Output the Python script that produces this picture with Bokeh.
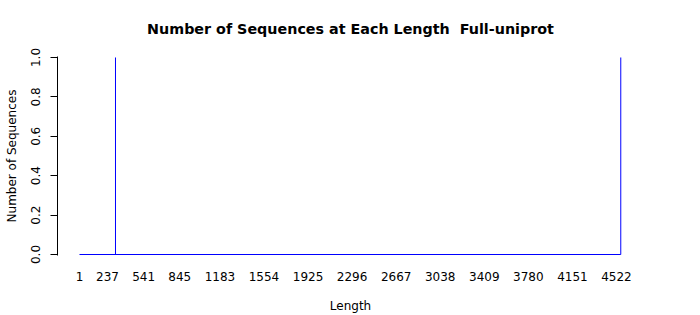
from bokeh.plotting import figure
from bokeh.models import Range1d, FixedTicker, CustomJSTickFormatter
from bokeh.embed import file_html
from bokeh.resources import INLINE

# ---- data ----
seq_lengths = [304, 4558]          # lengths that have sequences
seq_counts = [1, 1]                # number of sequences at those lengths
length_min, length_max = 1, 4558   # span of the length axis covered by the line
x_tick_values = [1, 237, 541, 845, 1183, 1554, 1925, 2296, 2667, 3038, 3409, 3780, 4151, 4522]
y_tick_values = [0.0, 0.2, 0.4, 0.6, 0.8, 1.0]

FONT = "DejaVu Sans"

p = figure(width=700, height=315, output_backend="svg", toolbar_location=None,
           x_range=Range1d(-184.2, 4749.3), y_range=Range1d(-0.005, 1.005),
           min_border_left=57, min_border_right=57, min_border_top=56, min_border_bottom=59,
           title="Number of Sequences at Each Length\u00a0 Full-uniprot")
p.outline_line_color = None
p.xgrid.visible = False
p.ygrid.visible = False
p.background_fill_color = "white"
p.border_fill_color = "white"

p.title.align = "center"
p.title.vertical_align = "middle"
p.title.text_font = FONT
p.title.text_font_size = "14.3px"
p.title.text_font_style = "bold"
p.title.text_color = "black"
p.title.standoff = 37

# baseline (zero counts) and spikes
p.line(x=[length_min, length_max], y=[0, 0], line_color="blue", line_width=1)
p.segment(x0=seq_lengths, y0=[0] * len(seq_lengths), x1=seq_lengths, y1=seq_counts,
          line_color="blue", line_width=1)

# x axis: labels only
xa = p.xaxis[0]
xa.ticker = FixedTicker(ticks=x_tick_values)
xa.major_tick_out = 0
xa.major_tick_in = 0
xa.minor_tick_out = 0
xa.minor_tick_in = 0
xa.axis_line_color = None
xa.major_label_standoff = 16
xa.major_label_text_font = FONT
xa.major_label_text_font_size = "12px"
xa.major_label_text_color = "black"
xa.axis_label = "Length"
xa.axis_label_text_font = FONT
xa.axis_label_text_font_size = "12px"
xa.axis_label_text_font_style = "normal"
xa.axis_label_text_color = "black"
xa.axis_label_standoff = 15

ya = p.yaxis[0]
ya.ticker = FixedTicker(ticks=y_tick_values)
ya.formatter = CustomJSTickFormatter(code="return tick.toFixed(1);")
ya.major_tick_out = 7
ya.major_tick_in = 0
ya.minor_tick_out = 0
ya.minor_tick_in = 0
ya.axis_line_color = "black"
ya.major_tick_line_color = "black"
ya.major_label_orientation = "vertical"
ya.major_label_standoff = 10
ya.major_label_text_font = FONT
ya.major_label_text_font_size = "12px"
ya.major_label_text_color = "black"
ya.axis_label = "Number of Sequences"
ya.axis_label_text_font = FONT
ya.axis_label_text_font_size = "12px"
ya.axis_label_text_font_style = "normal"
ya.axis_label_text_color = "black"
ya.axis_label_standoff = 10

open("out.html", "w").write(file_html(p, INLINE))
